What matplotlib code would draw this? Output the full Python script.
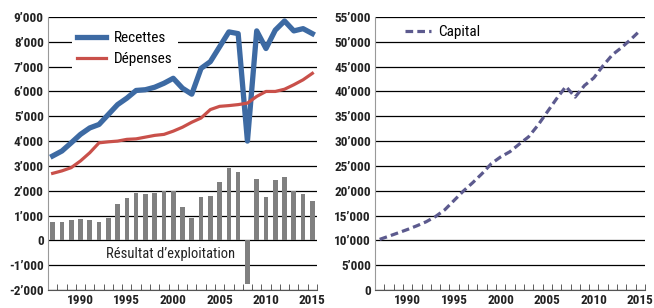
import matplotlib.pyplot as plt
from matplotlib.ticker import FuncFormatter, MultipleLocator

plt.rcParams['font.family'] = ['Roboto Condensed', 'DejaVu Sans']

annees = list(range(1987, 2016))
recettes = [3400, 3600, 3930, 4270, 4530, 4670, 5070, 5470, 5730, 6040,
            6070, 6170, 6330, 6530, 6130, 5890, 6930, 7200, 7800, 8400,
            8330, 4000, 8440, 7730, 8470, 8840, 8440, 8530, 8330]
depenses = [2700, 2800, 2930, 3200, 3530, 3930, 3970, 4000, 4070, 4090,
            4160, 4230, 4270, 4400, 4560, 4760, 4930, 5270, 5400, 5430,
            5470, 5530, 5800, 6000, 6000, 6090, 6270, 6470, 6730]
resultat = [720, 760, 830, 870, 830, 720, 910, 1470, 1710, 1920,
            1870, 1920, 2000, 2000, 1350, 910, 1750, 1790, 2350, 2910,
            2750, -1770, 2470, 1750, 2430, 2550, 1990, 1870, 1590]
capital = [10200, 10850, 11520, 12200, 12940, 13750, 14800, 16170, 18060, 19950,
           21630, 23450, 25470, 26820, 27870, 29400, 30870, 33200, 35870, 38530,
           41000, 38870, 41200, 42730, 45200, 47400, 48870, 50530, 52330]

def milliers(v, pos):
    v = int(round(v))
    s = f"{abs(v):,}".replace(",", "\u2019")
    return ("-" if v < 0 else "") + s

fig = plt.figure(figsize=(6.54, 3.08), dpi=100)
ax1 = fig.add_axes([48/654, 1-290/308, 269/654, 273/308])
ax2 = fig.add_axes([375/654, 1-290/308, 270/654, 273/308])

def habiller(ax, ymin, ymax, pas):
    ax.set_xlim(1986.5, 2015.5)
    ax.set_ylim(ymin, ymax)
    ax.yaxis.set_major_locator(MultipleLocator(pas))
    ax.yaxis.set_major_formatter(FuncFormatter(milliers))
    ax.set_xticks([1990, 1995, 2000, 2005, 2010, 2015])
    ax.set_xticks([a + 0.5 for a in annees], minor=True)
    ax.tick_params(axis='x', which='major', length=0, pad=3, labelsize=9.5)
    ax.tick_params(axis='x', which='minor', direction='in', length=4, color='#444444')
    ax.tick_params(axis='y', length=0, pad=3, labelsize=9.5)
    for lab in ax.get_xticklabels() + ax.get_yticklabels():
        lab.set_fontweight('bold')
        lab.set_color('#222222')
    ax.grid(axis='y', color='black', linewidth=0.9)
    ax.set_axisbelow(True)
    for s in ['top', 'right']:
        ax.spines[s].set_visible(False)
    ax.spines['left'].set_color('#999999')
    ax.spines['bottom'].set_color('#555555')

habiller(ax1, -2000, 9000, 1000)
ax1.bar(annees, resultat, width=0.5, color='#808080', zorder=2)
ax1.plot(annees, recettes, color='#3D6AA3', linewidth=3.8, label='Recettes', zorder=3)
ax1.plot(annees, depenses, color='#C9504A', linewidth=2.3, label='D\u00e9penses', zorder=3)
leg = ax1.legend(loc='upper left', bbox_to_anchor=(0.06, 0.995), frameon=True,
                 fontsize=11, handlelength=1.9, handletextpad=0.5,
                 borderpad=0.35, labelspacing=0.45)
leg.get_frame().set_edgecolor('none')
leg.get_frame().set_facecolor('white')
leg.get_frame().set_alpha(1)
ax1.text(1999.7, -560, 'R\u00e9sultat d\u2019exploitation', ha='center', va='center',
         fontsize=10.5, color='#222222')

habiller(ax2, 0, 55000, 5000)
ax2.plot(annees, capital, color='#5C5A8E', linewidth=2.3, linestyle=(0, (2.4, 1.3)),
         label='Capital', zorder=3)
leg2 = ax2.legend(loc='upper left', bbox_to_anchor=(0.06, 1.02), frameon=False,
                  fontsize=11, handlelength=1.7, handletextpad=0.5)

fig.savefig('out.png', dpi=100)
